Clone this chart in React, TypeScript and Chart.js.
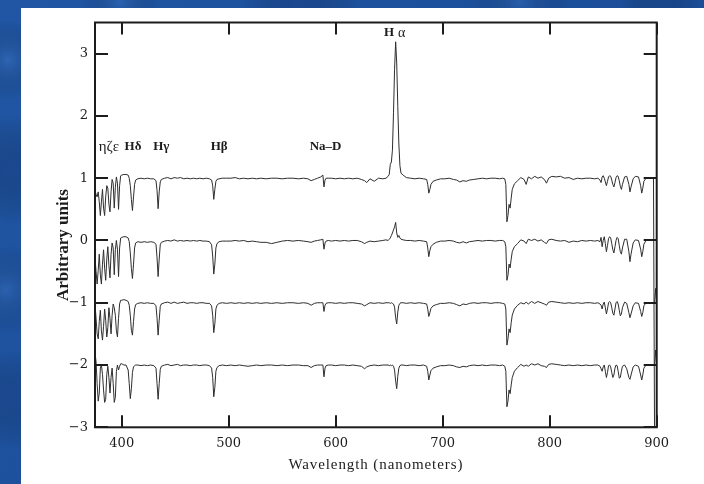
import { useEffect, useRef } from "react";
import { Chart, registerables } from "chart.js";

Chart.register(...registerables);

// Common wavelength grid (nm) shared by the four spectra
const WAVELENGTHS = [
  375, 376, 377, 378, 379, 380, 381, 382, 383, 384, 385, 386, 387, 388, 389, 390, 391, 392, 393, 394, 395, 396, 397, 398, 399, 400,
  402, 404, 406, 407, 408, 409, 410, 411, 412, 413, 415, 418, 421, 424, 427, 430, 432, 433, 434, 435, 436, 437,
  440, 443, 446, 449, 452, 455, 458, 461, 464, 467, 470, 473, 476, 479, 482, 484, 485, 486, 487, 488, 489, 491, 494, 498,
  502, 506, 510, 514, 518, 522, 526, 530, 535, 540, 545, 550, 555, 560, 565, 570,
  574, 577, 580, 583, 586, 588, 589, 590, 591, 593, 596, 600, 604, 608, 612, 616, 620, 624, 627, 629, 632, 636, 640, 644, 647,
  649, 650, 651, 652, 653, 654, 655, 656, 657, 658, 659, 660, 661, 663, 666, 670, 674, 678, 682, 685, 686, 687, 688, 689, 691, 694, 698,
  702, 706, 710, 713, 716, 719, 722, 725, 729, 733, 737, 741, 745, 749, 753, 756, 758,
  759, 760, 761, 762, 763, 764, 765, 767, 770, 773, 776, 778, 780, 783, 786, 789, 792, 795, 797, 799,
  802, 806, 810, 814, 818, 822, 826, 830, 834, 838, 842, 845,
  847, 848, 849, 850, 851, 852, 853, 854, 855, 856, 857, 858, 859, 860, 861, 862, 863, 864, 865, 866,
  867, 868, 870, 872, 874, 875, 876, 878, 880, 883, 885, 886, 887, 888, 890, 893, 896, 897, 898, 899, 900,
];

// Normalised flux of each star (continuum = 1)
const SPECTRUM_1 = [
  0.80, 0.74, 0.70, 0.78, 0.62, 0.40, 0.62, 0.82, 0.52, 0.40, 0.70, 0.88, 0.84, 0.58, 0.46, 0.78, 0.98, 0.92, 0.52, 0.85, 1.02, 0.92, 0.50, 0.88, 1.04, 1.05,
  1.06, 1.06, 1.05, 1.00, 0.88, 0.66, 0.48, 0.70, 0.90, 0.97, 0.99, 1.00, 0.99, 1.00, 0.99, 0.99, 0.96, 0.80, 0.51, 0.78, 0.94, 0.98,
  1.00, 1.01, 0.99, 1.01, 1.00, 1.01, 0.99, 1.00, 0.99, 1.00, 0.99, 1.00, 0.99, 1.00, 0.99, 0.97, 0.88, 0.66, 0.82, 0.95, 0.98, 0.99, 1.00, 1.00,
  1.00, 1.01, 0.99, 1.00, 0.99, 1.00, 0.99, 1.00, 0.99, 1.00, 1.00, 0.99, 1.00, 1.00, 0.99, 1.00,
  0.99, 0.96, 0.98, 1.00, 1.02, 1.05, 0.86, 0.97, 1.00, 1.00, 1.00, 0.99, 1.00, 0.99, 1.00, 0.99, 1.00, 0.98, 0.96, 0.93, 0.99, 0.95, 1.00, 0.99, 1.00,
  1.03, 1.06, 1.22, 1.26, 1.45, 2.05, 2.75, 3.19, 2.85, 2.15, 1.55, 1.20, 1.08, 1.05, 1.01, 1.00, 0.99, 1.00, 0.99, 0.98, 0.90, 0.76, 0.82, 0.90, 0.95, 0.97, 0.99,
  0.99, 1.00, 0.98, 0.97, 0.94, 0.96, 0.95, 0.97, 0.98, 0.99, 1.00, 0.99, 1.00, 1.00, 0.99, 1.00, 0.99,
  0.90, 0.30, 0.40, 0.58, 0.52, 0.68, 0.82, 0.91, 0.96, 1.01, 0.98, 0.90, 1.02, 0.99, 1.03, 1.00, 1.02, 0.98, 0.92, 1.00,
  1.03, 1.02, 1.03, 1.00, 1.01, 0.98, 1.00, 0.99, 1.00, 1.00, 0.99, 1.00,
  0.97, 0.93, 1.02, 1.04, 1.00, 0.94, 0.88, 0.95, 1.02, 1.04, 1.03, 0.97, 0.90, 0.86, 0.93, 1.01, 1.04, 1.03, 0.96, 0.87,
  0.82, 0.90, 1.02, 1.03, 0.90, 0.78, 0.86, 0.99, 1.03, 1.02, 0.88, 0.76, 0.84, 0.95, 1.00, 1.01, 1.00, 1.00, -3.2, -3.2, -3.2,
];

const SPECTRUM_2 = [
  0.72, 0.50, 0.30, 0.52, 0.78, 0.45, 0.30, 0.62, 0.85, 0.55, 0.36, 0.70, 0.90, 0.60, 0.40, 0.78, 0.96, 0.88, 0.45, 0.85, 1.00, 0.86, 0.42, 0.88, 1.04, 1.05,
  1.06, 1.06, 1.04, 0.98, 0.80, 0.55, 0.39, 0.62, 0.88, 0.96, 0.98, 0.97, 0.98, 0.97, 0.98, 0.97, 0.94, 0.72, 0.42, 0.70, 0.93, 0.97,
  0.99, 1.00, 0.99, 1.01, 0.99, 1.00, 0.99, 1.00, 0.99, 1.00, 0.99, 1.00, 0.99, 0.99, 0.98, 0.93, 0.75, 0.46, 0.62, 0.88, 0.95, 0.98, 0.99, 0.99,
  0.99, 1.00, 0.99, 1.00, 0.98, 0.99, 0.98, 0.97, 0.97, 0.95, 0.97, 0.99, 1.00, 0.99, 1.00, 0.99,
  0.98, 0.97, 0.99, 1.00, 1.01, 1.02, 0.86, 0.96, 0.99, 1.00, 0.99, 1.00, 0.99, 1.00, 0.99, 1.00, 1.00, 0.98, 0.95, 0.97, 0.99, 0.98, 0.99, 1.00, 1.01,
  1.00, 1.02, 1.04, 1.08, 1.12, 1.17, 1.22, 1.29, 1.12, 1.05, 1.08, 1.04, 1.02, 1.01, 1.00, 1.00, 0.99, 1.00, 0.99, 0.98, 0.88, 0.74, 0.84, 0.90, 0.94, 0.97, 0.99,
  0.99, 1.00, 0.99, 0.97, 0.96, 0.98, 0.96, 0.98, 0.99, 1.00, 0.99, 1.00, 1.00, 0.99, 1.00, 1.00, 0.98,
  0.90, 0.36, 0.44, 0.62, 0.56, 0.70, 0.82, 0.90, 0.95, 1.01, 0.99, 0.95, 1.02, 1.00, 1.02, 0.99, 1.01, 0.97, 0.95, 1.01,
  1.02, 1.00, 0.99, 1.00, 0.97, 0.99, 0.98, 1.00, 0.99, 1.00, 0.99, 1.00,
  0.98, 1.05, 0.90, 1.00, 1.06, 0.95, 0.82, 0.92, 1.03, 1.06, 1.04, 0.95, 0.85, 0.80, 0.90, 1.00, 1.05, 1.03, 0.92, 0.82,
  0.78, 0.88, 1.02, 1.02, 0.82, 0.66, 0.78, 0.96, 1.01, 1.00, 0.86, 0.74, 0.82, 0.94, 1.00, 1.01, 1.00, 1.00, 1.00, 1.00, 1.00,
];

const SPECTRUM_3 = [
  0.98, 0.75, 0.50, 0.42, 0.70, 0.88, 0.55, 0.40, 0.62, 0.90, 0.72, 0.45, 0.60, 0.92, 0.75, 0.50, 0.80, 0.98, 0.92, 0.80, 0.55, 0.45, 0.75, 0.98, 1.04, 1.04,
  1.05, 1.04, 1.02, 0.96, 0.80, 0.56, 0.48, 0.70, 0.90, 0.97, 0.99, 1.00, 0.99, 1.00, 0.99, 0.99, 0.95, 0.75, 0.48, 0.72, 0.94, 0.98,
  1.00, 1.01, 0.99, 1.01, 0.99, 1.00, 1.01, 0.99, 1.00, 1.00, 0.99, 1.00, 1.00, 0.99, 0.99, 0.95, 0.80, 0.52, 0.66, 0.90, 0.96, 0.99, 1.00, 0.99,
  1.00, 0.99, 1.00, 0.99, 1.00, 0.99, 1.00, 0.99, 1.00, 0.99, 1.00, 0.99, 1.00, 1.00, 0.99, 1.00,
  0.99, 0.96, 0.99, 1.00, 1.00, 1.00, 0.86, 0.96, 0.99, 1.00, 1.00, 0.99, 1.00, 0.99, 1.00, 1.00, 0.99, 0.98, 0.95, 0.97, 1.00, 0.99, 1.00, 0.99, 1.00,
  1.00, 1.00, 0.99, 1.00, 0.99, 0.98, 0.93, 0.76, 0.66, 0.85, 0.96, 0.99, 1.00, 1.00, 0.99, 1.00, 0.99, 1.00, 0.99, 0.98, 0.90, 0.78, 0.84, 0.91, 0.95, 0.97, 0.99,
  0.99, 1.00, 0.99, 0.97, 0.95, 0.98, 0.97, 0.99, 1.00, 0.99, 1.00, 1.00, 0.99, 1.00, 1.00, 0.99, 0.98,
  0.90, 0.32, 0.42, 0.58, 0.52, 0.68, 0.80, 0.90, 0.96, 1.00, 0.98, 1.01, 0.98, 1.02, 0.99, 1.02, 1.00, 0.98, 0.96, 1.01,
  1.02, 1.01, 1.00, 0.99, 1.00, 0.99, 1.00, 0.99, 1.00, 1.00, 0.99, 1.00,
  0.98, 0.96, 0.90, 0.98, 1.01, 0.92, 0.82, 0.90, 1.00, 1.02, 1.00, 0.92, 0.83, 0.80, 0.90, 1.00, 1.02, 0.98, 0.88, 0.79,
  0.82, 0.92, 1.01, 0.99, 0.84, 0.76, 0.82, 0.95, 1.00, 0.99, 0.86, 0.78, 0.84, 0.95, 1.00, 1.00, 1.00, 1.00, 1.00, 1.23, 1.00,
];

const SPECTRUM_4 = [
  1.20, 1.05, 0.70, 0.42, 0.55, 0.95, 1.00, 0.85, 0.60, 0.40, 0.45, 0.85, 0.98, 0.80, 0.55, 0.80, 0.95, 0.70, 0.40, 0.48, 0.90, 1.00, 0.92, 0.98, 1.02, 1.02,
  1.00, 1.00, 0.92, 0.70, 0.46, 0.62, 0.88, 0.97, 0.99, 1.00, 1.00, 0.99, 1.00, 0.99, 1.00, 0.99, 0.95, 0.70, 0.45, 0.70, 0.93, 0.98,
  1.00, 1.01, 0.99, 1.00, 1.01, 0.99, 1.00, 1.00, 0.99, 1.00, 1.00, 0.99, 1.00, 1.00, 0.99, 0.95, 0.80, 0.49, 0.64, 0.90, 0.96, 0.99, 1.00, 0.99,
  1.00, 0.99, 1.00, 0.99, 0.98, 0.99, 1.00, 0.99, 1.00, 1.00, 0.99, 1.00, 0.99, 1.00, 1.00, 0.99,
  0.99, 0.96, 0.99, 1.00, 1.00, 1.00, 0.81, 0.95, 0.99, 1.00, 1.00, 0.99, 1.00, 1.00, 0.99, 1.00, 0.99, 0.98, 0.94, 0.97, 0.99, 1.00, 0.99, 1.00, 1.00,
  1.00, 0.99, 1.00, 0.99, 1.00, 0.98, 0.92, 0.74, 0.62, 0.82, 0.95, 0.99, 1.00, 1.00, 0.99, 1.00, 1.00, 0.99, 1.00, 0.98, 0.90, 0.76, 0.84, 0.91, 0.95, 0.97, 0.99,
  0.99, 1.00, 0.99, 0.97, 0.96, 0.98, 0.97, 0.99, 1.00, 0.99, 1.00, 0.99, 1.00, 1.00, 0.99, 1.00, 0.98,
  0.90, 0.33, 0.42, 0.60, 0.54, 0.68, 0.80, 0.90, 0.96, 1.01, 0.98, 1.00, 0.98, 1.02, 1.00, 1.02, 0.99, 0.98, 0.96, 1.01,
  1.02, 1.01, 1.00, 0.99, 1.00, 0.99, 1.00, 0.99, 1.00, 0.99, 1.00, 1.00,
  0.98, 0.94, 0.90, 0.97, 1.00, 0.90, 0.80, 0.88, 0.99, 1.00, 0.97, 0.88, 0.80, 0.84, 0.95, 1.00, 0.99, 0.90, 0.79, 0.80,
  0.90, 0.98, 1.00, 0.94, 0.80, 0.77, 0.84, 0.97, 1.00, 0.98, 0.84, 0.76, 0.84, 0.95, 1.00, 1.00, 1.00, 1.00, 1.00, 1.24, 1.00,
];

const SPECTRA = [SPECTRUM_1, SPECTRUM_2, SPECTRUM_3, SPECTRUM_4];
// Vertical shift applied to each spectrum so they stack
const OFFSETS = [0, -1, -2, -3];

const X_TICKS = [400, 500, 600, 700, 800, 900];
const Y_TICKS = [-3, -2, -1, 0, 1, 2, 3];

// Spectral line identifications: label, wavelength (nm), height (axis units)
const LINE_LABELS = ["ηζε", "Hδ", "Hγ", "Hβ", "Na–D"];
const LINE_LABEL_NM = [388, 410.5, 437, 491, 590.5];
const LINE_LABEL_Y = 1.5;
const HALPHA_NM = 655.5;
const HALPHA_Y = 3.33;

const INK = "#1c1c1c";

// Soft lighter and darker patches that give the slide backdrop its mottled look
const BACKDROP_SPOTS: [number, number, number, string][] = [
  [8, 60, 40, "rgba(70,130,210,0.35)"],
  [12, 170, 55, "rgba(20,50,110,0.35)"],
  [6, 290, 45, "rgba(70,130,210,0.30)"],
  [14, 400, 50, "rgba(20,50,110,0.30)"],
  [120, 2, 40, "rgba(70,130,210,0.30)"],
  [300, 4, 60, "rgba(20,50,110,0.30)"],
  [520, 2, 50, "rgba(70,130,210,0.28)"],
  [660, 4, 40, "rgba(20,50,110,0.30)"],
];

const slidePlugin = {
  id: "slide",
  beforeDraw(chart: any) {
    const { ctx, width, height } = chart;
    ctx.save();
    const g = ctx.createLinearGradient(0, 0, width, height);
    g.addColorStop(0, "#2056a4");
    g.addColorStop(0.5, "#1c4f9a");
    g.addColorStop(1, "#1a4b95");
    ctx.fillStyle = g;
    ctx.fillRect(0, 0, width, height);
    for (const [cx, cy, r, col] of BACKDROP_SPOTS) {
      const rg = ctx.createRadialGradient(cx, cy, 0, cx, cy, r);
      rg.addColorStop(0, col);
      rg.addColorStop(1, "rgba(0,0,0,0)");
      ctx.fillStyle = rg;
      ctx.fillRect(cx - r, cy - r, 2 * r, 2 * r);
    }
    ctx.fillStyle = "#ffffff";
    ctx.fillRect(21, 8, width - 21, height - 8);
    ctx.restore();
  },
  afterDraw(chart: any) {
    const { ctx, chartArea } = chart;
    const { left, right, top, bottom } = chartArea;
    const xs = chart.scales.x;
    const ys = chart.scales.y;
    ctx.save();
    ctx.strokeStyle = INK;
    ctx.lineWidth = 2;
    ctx.strokeRect(left, top, right - left, bottom - top);
    ctx.beginPath();
    for (const v of X_TICKS) {
      const px = Math.round(xs.getPixelForValue(v));
      ctx.moveTo(px, bottom);
      ctx.lineTo(px, bottom - 12);
      ctx.moveTo(px, top);
      ctx.lineTo(px, top + 12);
    }
    for (const v of Y_TICKS) {
      const py = Math.round(ys.getPixelForValue(v));
      ctx.moveTo(left, py);
      ctx.lineTo(left + 13, py);
      ctx.moveTo(right, py);
      ctx.lineTo(right - 13, py);
    }
    ctx.stroke();

    ctx.fillStyle = INK;
    ctx.textBaseline = "middle";
    ctx.textAlign = "center";

    // axis titles
    ctx.font = "15px 'Liberation Serif'";
    (ctx as any).letterSpacing = "0.9px";
    ctx.fillText("Wavelength (nanometers)", (left + right) / 2, 465);
    (ctx as any).letterSpacing = "0px";

    ctx.save();
    ctx.translate(64, 245);
    ctx.rotate(-Math.PI / 2);
    ctx.font = "bold 17px 'Liberation Serif'";
    ctx.fillText("Arbitrary units", 0, 0);
    ctx.restore();

    // line identifications
    const ly = ys.getPixelForValue(LINE_LABEL_Y);
    LINE_LABELS.forEach((label, i) => {
      ctx.font = i === 0 ? "15px 'Liberation Serif'" : "bold 13px 'Liberation Serif'";
      ctx.fillText(label, xs.getPixelForValue(LINE_LABEL_NM[i]), ly);
    });
    const hx = xs.getPixelForValue(HALPHA_NM);
    const hy = ys.getPixelForValue(HALPHA_Y);
    ctx.textAlign = "right";
    ctx.font = "bold 13px 'Liberation Serif'";
    ctx.fillText("H", hx - 1, hy);
    ctx.textAlign = "left";
    ctx.font = "14px 'Liberation Serif'";
    ctx.fillText("α", hx + 3, hy);
    ctx.restore();
  },
};

export default function App() {
  const canvasRef = useRef<HTMLCanvasElement>(null);

  useEffect(() => {
    const canvas = canvasRef.current;
    if (!canvas) return;
    const tickFont = { family: "'DejaVu Serif'", size: 13 };
    const chart = new Chart(canvas, {
      type: "line",
      data: {
        datasets: SPECTRA.map((flux, k) => ({
          data: WAVELENGTHS.map((nm, i) => ({ x: nm, y: flux[i] + OFFSETS[k] })),
          borderColor: "#2e2e2e",
          borderWidth: 1,
          pointRadius: 0,
          tension: 0,
          fill: false,
        })),
      },
      options: {
        animation: false,
        responsive: false,
        devicePixelRatio: 1,
        layout: { padding: { left: 0, top: 22.5, right: 47.3, bottom: 0 } },
        plugins: { legend: { display: false }, tooltip: { enabled: false } },
        scales: {
          x: {
            type: "linear",
            min: 375,
            max: 900,
            grid: { display: false, drawTicks: false },
            border: { display: false },
            afterBuildTicks: (s: any) => {
              s.ticks = X_TICKS.map((value) => ({ value }));
            },
            afterFit: (s: any) => {
              s.height = 56.7;
            },
            ticks: {
              font: tickFont,
              color: INK,
              padding: 9,
              maxRotation: 0,
              autoSkip: false,
              callback: (v: any) => String(v),
            },
          },
          y: {
            type: "linear",
            min: -3,
            max: 3.5,
            grid: { display: false, drawTicks: false },
            border: { display: false },
            afterBuildTicks: (s: any) => {
              s.ticks = Y_TICKS.map((value) => ({ value }));
            },
            afterFit: (s: any) => {
              s.width = 95;
            },
            ticks: {
              font: tickFont,
              color: INK,
              padding: 7,
              autoSkip: false,
              callback: (v: any) => (Number(v) < 0 ? "\u2212" + Math.abs(Number(v)) : String(v)),
            },
          },
        },
      },
      plugins: [slidePlugin],
    });
    return () => chart.destroy();
  }, []);

  return (
    <div style={{ position: "absolute", left: 0, top: 0, width: 704, height: 484 }}>
      <canvas ref={canvasRef} width={704} height={484} style={{ display: "block" }} />
    </div>
  );
}
